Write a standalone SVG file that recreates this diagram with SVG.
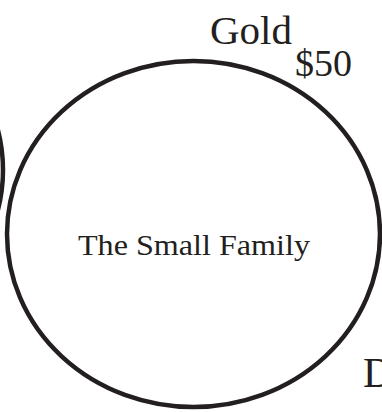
<svg xmlns="http://www.w3.org/2000/svg" width="382" height="412" viewBox="0 0 382 412">
<style>
.ring{fill:none;stroke:#231f20;stroke-width:4.5}
.t{font-family:"Liberation Serif","Times New Roman",serif;fill:#231f20}
</style>
<rect width="382" height="412" fill="#ffffff"/>
<g id="node-other">
<ellipse class="ring" cx="-190" cy="170" rx="193" ry="175" stroke-width="5.5"/>
</g>
<g id="node-small-family">
<ellipse class="ring" cx="193.5" cy="234" rx="186.5" ry="173"/>
<text class="t" x="194" y="255" font-size="30" text-anchor="middle" textLength="232" lengthAdjust="spacingAndGlyphs">The Small Family</text>
</g>
<g id="labels">
<text class="t" x="210" y="44" font-size="39" textLength="82" lengthAdjust="spacingAndGlyphs">Gold</text>
<text class="t" x="295" y="76" font-size="37" textLength="57" lengthAdjust="spacingAndGlyphs">$50</text>
<text class="t" x="363" y="387" font-size="42">D</text>
</g>
<g id="connectors"></g>
</svg>
